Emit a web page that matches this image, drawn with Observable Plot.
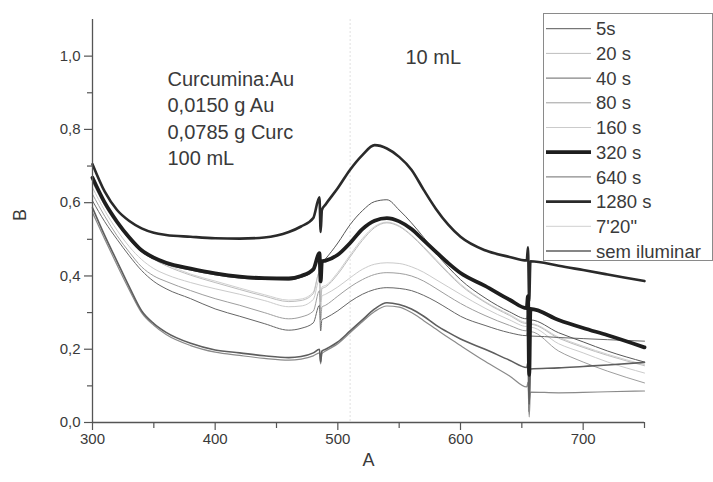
<!DOCTYPE html>
<html><head><meta charset="utf-8">
<script src="https://cdn.jsdelivr.net/npm/d3@7"></script>
<script src="https://cdn.jsdelivr.net/npm/@observablehq/plot@0.6"></script>
<style>
body{margin:0;background:#fff;}
#wrap{position:relative;width:713px;height:482px;font-family:"Liberation Sans",Arial,sans-serif;}
#legend{position:absolute;left:543px;top:13px;width:168px;height:246px;border:1px solid #8a8a8a;background:#fff;}
</style></head>
<body><div id="wrap"></div>
<script>
// ---- data ----
const wavelengths = [300,310,320,330,340,350,360,380,400,420,440,460,470,480,485,486,487,490,500,510,520,530,540,550,560,570,580,590,600,620,640,654,655,656,657,680,700,720,750];
const seriesNames = ["5s","20 s","40 s","80 s","160 s","320 s","640 s","1280 s","7'20\"","sem iluminar"];
const s5    = [0.664,0.596,0.544,0.5,0.466,0.446,0.432,0.416,0.403,0.394,0.39,0.389,0.396,0.414,0.455,0.39,0.436,0.447,0.49,0.54,0.578,0.603,0.608,0.58,0.545,0.505,0.462,0.424,0.39,0.34,0.302,0.283,0.3,0.04,0.28,0.245,0.22,0.195,0.165];
const s20   = [0.655,0.592,0.54,0.5,0.468,0.445,0.428,0.402,0.382,0.363,0.345,0.33,0.333,0.352,0.41,0.33,0.365,0.37,0.405,0.452,0.497,0.532,0.545,0.535,0.51,0.477,0.442,0.407,0.375,0.328,0.292,0.27,0.29,0.03,0.268,0.23,0.205,0.183,0.155];
const s40   = [0.605,0.548,0.5,0.455,0.415,0.385,0.365,0.338,0.31,0.29,0.27,0.252,0.257,0.272,0.32,0.25,0.28,0.285,0.305,0.33,0.35,0.363,0.368,0.366,0.36,0.347,0.33,0.31,0.29,0.265,0.245,0.237,0.255,0.03,0.236,0.232,0.229,0.226,0.222];
const s80   = [0.623,0.563,0.51,0.465,0.425,0.4,0.385,0.36,0.338,0.32,0.3,0.283,0.288,0.304,0.36,0.28,0.315,0.32,0.345,0.37,0.39,0.404,0.409,0.407,0.4,0.386,0.366,0.345,0.325,0.292,0.265,0.25,0.27,0.03,0.248,0.195,0.165,0.14,0.108];
const s160  = [0.641,0.578,0.525,0.48,0.445,0.42,0.404,0.382,0.365,0.35,0.333,0.316,0.318,0.336,0.39,0.31,0.345,0.35,0.37,0.395,0.418,0.432,0.436,0.434,0.425,0.41,0.39,0.37,0.35,0.312,0.28,0.262,0.28,0.03,0.26,0.215,0.19,0.165,0.135];
const s320  = [0.668,0.6,0.548,0.505,0.47,0.45,0.436,0.42,0.407,0.398,0.394,0.393,0.4,0.418,0.462,0.385,0.44,0.442,0.458,0.49,0.528,0.551,0.558,0.549,0.528,0.497,0.466,0.435,0.408,0.373,0.335,0.312,0.345,0.13,0.31,0.28,0.258,0.238,0.205];
const s640  = [0.573,0.5,0.43,0.362,0.3,0.265,0.24,0.21,0.192,0.183,0.175,0.17,0.173,0.182,0.19,0.16,0.188,0.195,0.215,0.245,0.275,0.303,0.318,0.315,0.3,0.278,0.255,0.232,0.21,0.167,0.127,0.097,0.11,0.015,0.083,0.081,0.082,0.084,0.086];
const s1280 = [0.705,0.63,0.58,0.55,0.53,0.518,0.512,0.507,0.503,0.502,0.505,0.52,0.535,0.558,0.615,0.52,0.58,0.595,0.64,0.69,0.73,0.757,0.748,0.725,0.69,0.635,0.583,0.54,0.507,0.47,0.452,0.442,0.478,0.33,0.44,0.428,0.416,0.404,0.386];
const s720  = [0.658,0.595,0.543,0.503,0.47,0.448,0.432,0.405,0.386,0.367,0.349,0.334,0.337,0.356,0.41,0.335,0.37,0.374,0.41,0.457,0.502,0.535,0.547,0.537,0.512,0.48,0.445,0.41,0.378,0.33,0.295,0.273,0.29,0.03,0.27,0.233,0.208,0.186,0.158];
const sDark = [0.586,0.51,0.44,0.37,0.305,0.27,0.246,0.216,0.198,0.19,0.182,0.177,0.18,0.19,0.2,0.165,0.195,0.2,0.22,0.25,0.28,0.31,0.327,0.322,0.31,0.29,0.266,0.246,0.228,0.2,0.17,0.15,0.165,0.05,0.146,0.149,0.153,0.157,0.164];
const seriesValues = [s5,s20,s40,s80,s160,s320,s640,s1280,s720,sDark];
const xMajorTicks = [300,400,500,600,700];
const xMinorTicks = [350,450,550,650,750];
const yMajorTicks = [0,0.2,0.4,0.6,0.8,1.0];
const yMinorTicks = [0.1,0.3,0.5,0.7,0.9];
const markerWavelength = [510];
const annotationText = "Curcumina:Au\n0,0150 g Au\n0,0785 g Curc\n100 mL";
const volumeText = "10 mL";

// ---- styles ----
const styles = {
  "5s":{stroke:"#575757",w:1},
  "20 s":{stroke:"#bdbdbd",w:1},
  "40 s":{stroke:"#666",w:1},
  "80 s":{stroke:"#9e9e9e",w:1},
  "160 s":{stroke:"#cbcbcb",w:1},
  "320 s":{stroke:"#1e1e1e",w:3.8},
  "640 s":{stroke:"#8a8a8a",w:1.2},
  "1280 s":{stroke:"#2a2a2a",w:2.6},
  "7'20\"":{stroke:"#d0d0d0",w:1},
  "sem iluminar":{stroke:"#5e5e5e",w:1.6}
};
const drawOrder = ["7'20\"","160 s","20 s","80 s","40 s","5s","640 s","sem iluminar","1280 s","320 s"];

const tables = {};
seriesNames.forEach((n,k)=>{ tables[n] = wavelengths.map((w,i)=>({w, v: seriesValues[k][i]})); });

const comma = d => d.toFixed(1).replace(".", ",");
const axisColor = "#555";

const chart = Plot.plot({
  width:713, height:482,
  marginLeft:92, marginRight:69, marginTop:19, marginBottom:60,
  x:{domain:[300,750]},
  y:{domain:[0,1.1]},
  style:{fontFamily:"Liberation Sans, Arial, sans-serif", fontSize:"15px", color:"#3a3a3a", background:"white", overflow:"visible"},
  marks:[
    Plot.ruleX(markerWavelength, {stroke:"#e0e0e0", strokeDasharray:"2,2"}),
    ...drawOrder.map(n => Plot.line(tables[n], {x:"w", y:"v", curve:"monotone-x", stroke:styles[n].stroke, strokeWidth:styles[n].w, strokeLinejoin:"round"})),
    Plot.ruleX([300], {stroke:axisColor, strokeWidth:1.3}),
    Plot.ruleY([0], {stroke:axisColor, strokeWidth:1.3}),
    Plot.axisY(yMajorTicks, {tickSize:8, tickPadding:4, tickFormat:comma, label:null, stroke:axisColor, strokeWidth:1.2}),
    Plot.axisY(yMinorTicks, {tickSize:5, tickFormat:()=>"", label:null, stroke:axisColor, strokeWidth:1.2}),
    Plot.axisX(xMajorTicks, {tickSize:8, tickPadding:3, tickFormat:d=>String(d), label:null, stroke:axisColor, strokeWidth:1.2}),
    Plot.axisX(xMinorTicks, {tickSize:6, tickFormat:()=>"", label:null, stroke:axisColor, strokeWidth:1.2}),
    Plot.text(["A"], {frameAnchor:"bottom", dy:43, fontSize:18, fill:"#3a3a3a"}),
    Plot.text(["B"], {frameAnchor:"left", dx:-72, rotate:-90, fontSize:18, fill:"#3a3a3a"}),
    Plot.text([annotationText], {frameAnchor:"top-left", dx:75, dy:48, textAnchor:"start", lineAnchor:"top", lineHeight:1.31, fontSize:20, fill:"#3a3a3a"}),
    Plot.text([volumeText], {frameAnchor:"top-left", dx:313, dy:38, textAnchor:"start", lineAnchor:"middle", fontSize:20, fill:"#3a3a3a"})
  ]
});
const wrap = document.getElementById("wrap");
wrap.appendChild(chart);

// legend
const leg = document.createElement("div");
leg.id = "legend";
wrap.appendChild(leg);
const ls = d3.select(leg).append("svg").attr("width",168).attr("height",246).style("position","absolute").style("left","0").style("top","0").style("overflow","visible");
seriesNames.forEach((n,i)=>{
  const cy = 14.7 + 24.7*i;
  ls.append("line").attr("x1",2).attr("x2",47).attr("y1",cy).attr("y2",cy)
    .attr("stroke",styles[n].stroke).attr("stroke-width",Math.max(styles[n].w,1));
  ls.append("text").attr("x",52).attr("y",cy).attr("dy","0.36em")
    .attr("font-family","Liberation Sans, Arial, sans-serif").attr("font-size",18.5).attr("fill","#3a3a3a").text(n);
});
</script>
</body></html>
